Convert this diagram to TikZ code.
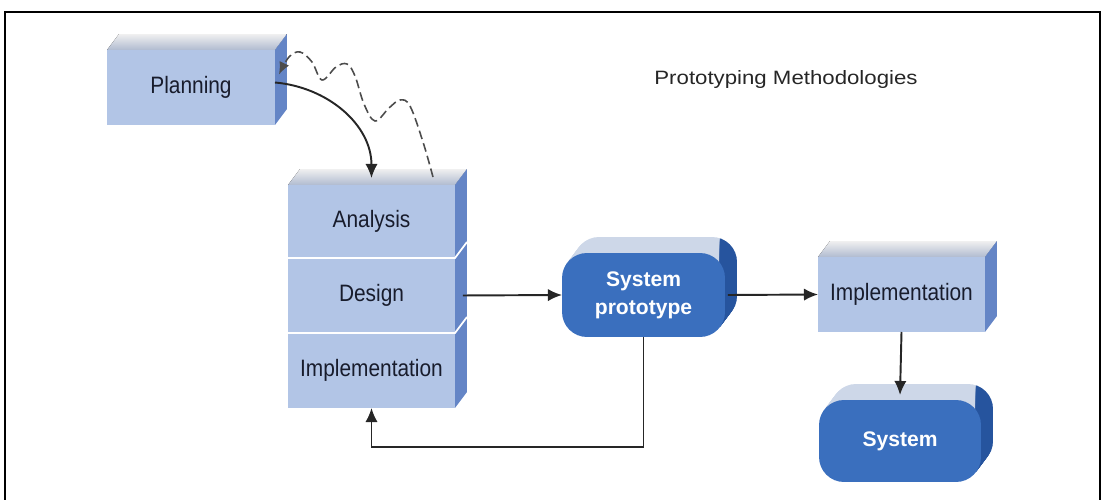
\documentclass[tikz,border=0pt]{standalone}
\usepackage{fontspec}
\setmainfont{Liberation Sans}
\newfontfamily\lblfont[FakeStretch=0.88]{Liberation Sans}
\newfontfamily\ttlfont[FakeStretch=1.15]{Liberation Sans}
\usetikzlibrary{positioning,backgrounds,arrows.meta}

\definecolor{facelight}{RGB}{178,197,230}
\definecolor{sidelight}{RGB}{100,133,198}
\definecolor{topedge}{RGB}{176,187,208}
\definecolor{facedark}{RGB}{58,111,190}
\definecolor{sidedark}{RGB}{38,84,158}
\definecolor{topdark}{RGB}{205,215,232}
\definecolor{labelink}{RGB}{24,28,44}

\tikzset{
  phase/.style={rectangle, fill=facelight, text=labelink, inner sep=0pt, outer sep=0pt,
    font=\lblfont\fontsize{13.5}{15}\selectfont},
  proto/.style={rectangle, rounded corners=0.5cm, fill=facedark, text=white, align=center,
    inner sep=0pt, outer sep=0pt, font=\fontsize{12}{16}\selectfont\bfseries},
  heading/.style={text=black!85, font=\ttlfont\fontsize{11}{13}\selectfont},
  topface/.style={top color=gray!12, bottom color=topedge},
  conn/.style={draw=black!85, line width=1.1pt, -{Latex[length=8pt,width=7pt]}},
  wave/.style={draw=black!70, line width=0.9pt, dash pattern=on 5pt off 2.5pt,
    -{Latex[length=7pt,width=6pt]}}
}

% top and side of a block, #1 = upper node, #2 = lower node
\newcommand{\boxfaces}[2]{%
  \fill[topface] (#1.north west) -- ++(12,-16) -- ([shift={(12,-16)}]#1.north east)
    -- (#1.north east) -- cycle;
  \fill[sidelight] (#1.north east) -- ++(12,-16) -- ([shift={(12,-16)}]#2.south east)
    -- (#2.south east) -- cycle;}

% body of a rounded block
\newcommand{\roundfaces}[1]{%
  \foreach \k in {1,...,16}
    \fill[topdark, rounded corners=0.5cm] ([shift={(0.75*\k,-\k)}]#1.north west)
      rectangle ([shift={(0.75*\k,-\k)}]#1.south east);
  \begin{scope}
    \clip ([xshift=-0.1cm]#1.north east) ++(0,-30) rectangle ([shift={(20,10)}]#1.south east);
    \foreach \k in {1,...,16}
      \fill[sidedark, rounded corners=0.5cm] ([shift={(0.75*\k,-\k)}]#1.north west)
        rectangle ([shift={(0.75*\k,-\k)}]#1.south east);
  \end{scope}}

\begin{document}
\begin{tikzpicture}[x=0.02cm, y=-0.02cm]
  \useasboundingbox (0,0) rectangle (1105,500);
  \draw[line width=1.3pt] (5,500) -- (5,12) -- (1100,12) -- (1100,500);

  \node[heading] (title) at (786,80) {Prototyping Methodologies};

  \node[phase, minimum width=3.36cm, minimum height=1.5cm] (planning) at (191,87.5) {Planning};
  \node[phase, minimum width=3.34cm, minimum height=1.46cm] (analysis) at (371.5,221.5) {Analysis};
  \node[phase, minimum width=3.34cm, minimum height=1.5cm, below=0pt of analysis] (design) {Design};
  \node[phase, minimum width=3.34cm, minimum height=1.5cm, below=0pt of design] (impl) {Implementation};
  \node[proto, minimum width=3.26cm, minimum height=1.68cm] (prototype) at (643.5,295) {System\\prototype};
  \node[phase, minimum width=3.34cm, minimum height=1.5cm] (install) at (901.5,294.5) {Implementation};
  \node[proto, minimum width=3.24cm, minimum height=1.64cm] (system) at (900,441) {System};

  % dividers of the stacked block
  \draw[white, line width=1pt] (design.north west) -- (design.north east) -- ++(12,-16);
  \draw[white, line width=1pt] (impl.north west) -- (impl.north east) -- ++(12,-16);

  \begin{scope}[on background layer]
    \boxfaces{planning}{planning}
    \boxfaces{analysis}{impl}
    \boxfaces{install}{install}
    \roundfaces{prototype}
    \roundfaces{system}
  \end{scope}

  \draw[conn] ([yshift=0.1cm]planning.east) to[out=-5, in=90] ([yshift=0.14cm]analysis.north);
  \draw[wave] plot[smooth, tension=0.6] coordinates {([shift={(-22,-8)}]analysis.north east)
    (423,142) (410,106) (400,100) (389,108) (375,121) (364,104) (355,76) (347,64)
    (336,67) (322,80) (312,62) (300,52) (289,57) ([shift={(4,-13)}]planning.east)};
  \draw[conn] ([xshift=0.16cm]design.east) -- (prototype.west);
  \draw[conn] ([xshift=0.06cm]prototype.east) -- (install.west);
  \draw[conn] (prototype.south) -- ++(0,110) -| (impl.south);
  \draw[conn] (install.south) -- ([yshift=0.1cm]system.north);
\end{tikzpicture}
\end{document}
